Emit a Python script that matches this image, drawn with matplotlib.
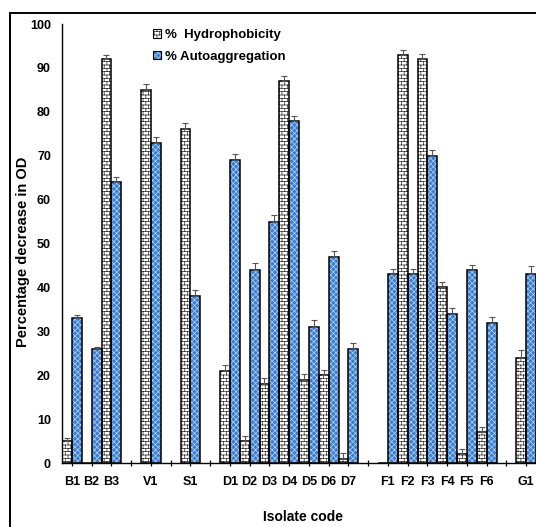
import warnings
warnings.filterwarnings("ignore")
import numpy as np
import matplotlib
matplotlib.use("Agg")
import matplotlib.pyplot as plt
import matplotlib.hatch as mhatch
from matplotlib.path import Path
from matplotlib.patches import Patch, Rectangle
from matplotlib.legend_handler import HandlerTuple

# ---------------- data ----------------
categories = ['B1', 'B2', 'B3', '', 'V1', '', 'S1', '', 'D1', 'D2', 'D3', 'D4', 'D5', 'D6', 'D7',
              '', 'F1', 'F2', 'F3', 'F4', 'F5', 'F6', '', 'G1']
hydrophobicity = [5, 0, 92, None, 85, None, 76, None, 21, 5, 18, 87, 19, 20, 1,
                  None, 0, 93, 92, 40, 2, 7, None, 24]
hydro_err = [0.8, 0, 1.0, None, 1.4, None, 1.4, None, 1.3, 1.2, 1.4, 1.2, 1.2, 1.2, 1.3,
             None, 0, 1.1, 1.2, 1.3, 1.2, 1.1, None, 1.8]
autoaggregation = [33, 26, 64, None, 73, None, 38, None, 69, 44, 55, 78, 31, 47, 26,
                   None, 43, 43, 70, 34, 44, 32, None, 43]
auto_err = [0.8, 0.4, 1.2, None, 1.3, None, 1.4, None, 1.4, 1.5, 1.5, 1.1, 1.5, 1.3, 1.3,
            None, 1.2, 1.2, 1.3, 1.3, 1.2, 1.3, None, 1.9]
series_labels = ['%  Hydrophobicity', '% Autoaggregation']
y_ticks = [0, 10, 20, 30, 40, 50, 60, 70, 80, 90, 100]


# ---------------- brick hatch (replaces the '|' hatch) ----------------
class BrickHatch(mhatch.HatchPatternBase):
    def __init__(self, hatch, density):
        rows = int(hatch.count('|') * density)
        if rows % 2:
            rows += 1
        self.rows = rows
        self.cols = max(1, int(round(rows * 0.6))) if rows else 0
        self.num_vertices = (2 * rows + 2 * self.cols * (rows + 1)) if rows else 0

    def set_vertices_and_codes(self, vertices, codes):
        rows, cols = self.rows, self.cols
        h = 1.0 / rows
        w = 1.0 / cols
        k = 0
        for i in range(rows):
            y = (i + 0.5) * h
            vertices[k] = (0.0, y)
            vertices[k + 1] = (1.0, y)
            codes[k] = Path.MOVETO
            codes[k + 1] = Path.LINETO
            k += 2
        for i in range(rows):
            y0 = (i + 0.5) * h
            off = w * (0.25 if i % 2 == 0 else 0.75)
            for j in range(cols):
                x = j * w + off
                if i < rows - 1:
                    segs = [(y0, y0 + h)]
                else:
                    segs = [(y0, 1.0), (0.0, 0.5 * h)]
                for a, b in segs:
                    vertices[k] = (x, a)
                    vertices[k + 1] = (x, b)
                    codes[k] = Path.MOVETO
                    codes[k + 1] = Path.LINETO
                    k += 2


mhatch._hatch_types = [BrickHatch if t is mhatch.VerticalHatch else t
                       for t in mhatch._hatch_types]

plt.rcParams['font.family'] = ['Liberation Sans', 'DejaVu Sans']
plt.rcParams['font.weight'] = 'bold'
plt.rcParams['hatch.linewidth'] = 0.5

W, H = 536, 527
fig = plt.figure(figsize=(W / 100, H / 100), dpi=100)
fig.patch.set_facecolor('white')

ax_left = 62 / W
ax_bottom = (H - 463) / H
ax_top = (H - 24) / H
ax = fig.add_axes([ax_left, ax_bottom, 1.0 - ax_left, ax_top - ax_bottom])

x = np.arange(len(categories))
hyd = np.array([np.nan if v is None else v for v in hydrophobicity], dtype=float)
aut = np.array([np.nan if v is None else v for v in autoaggregation], dtype=float)
hyd_e = np.array([np.nan if v is None else v for v in hydro_err], dtype=float)
aut_e = np.array([np.nan if v is None else v for v in auto_err], dtype=float)

bw = 0.5
brick_hatch = '|||||'
blue_hatch = 'xxxxxx'
blue = '#3a7ccf'
blue_line = '#b9d4f1'

# hatched fills
ax.bar(x - bw / 2, hyd, bw, color='white', edgecolor='#2e2e2e', hatch=brick_hatch,
       linewidth=0, zorder=2)
ax.bar(x + bw / 2, aut, bw, color=blue, edgecolor=blue_line, hatch=blue_hatch,
       linewidth=0, zorder=2)
# outlines
ax.bar(x - bw / 2, hyd, bw, fill=False, edgecolor='black', linewidth=1.1, zorder=3)
ax.bar(x + bw / 2, aut, bw, fill=False, edgecolor='black', linewidth=1.1, zorder=3)

# error bars (upper only)
m1 = np.nan_to_num(hyd) > 0
m2 = np.nan_to_num(aut) > 0
ax.errorbar((x - bw / 2)[m1], hyd[m1], yerr=[np.zeros(m1.sum()), hyd_e[m1]], fmt='none',
            ecolor='#555555', elinewidth=0.8, capsize=2, capthick=0.8, zorder=4)
ax.errorbar((x + bw / 2)[m2], aut[m2], yerr=[np.zeros(m2.sum()), aut_e[m2]], fmt='none',
            ecolor='#555555', elinewidth=0.8, capsize=2, capthick=0.8, zorder=4)

ax.set_xlim(-0.5, len(categories) - 0.5)
ax.set_ylim(0, 100)
ax.set_xticks(x)
ax.set_xticklabels(categories, fontsize=9, fontweight='bold')
ax.set_yticks(y_ticks)
ax.set_yticklabels([str(t) for t in y_ticks], fontsize=9, fontweight='bold')
ax.tick_params(axis='x', direction='inout', length=5, width=0.9, pad=7)
ax.tick_params(axis='y', length=0, pad=8)
for s in ['top', 'right']:
    ax.spines[s].set_visible(False)
for s in ['left', 'bottom']:
    ax.spines[s].set_linewidth(1.0)
    ax.spines[s].set_color('black')
ax.set_facecolor('none')

ax.set_xlabel('Isolate code', fontsize=10, fontweight='bold')
ax.xaxis.set_label_coords((303 - 62) / (W - 62), -(510 - 463) / (463 - 24))
ax.set_ylabel('Percentage decrease in OD', fontsize=10.5, fontweight='bold')
ax.yaxis.set_label_coords(-(62 - 30) / (W - 62), (463 - 252) / (463 - 24))

# legend
h1 = (Patch(facecolor='white', edgecolor='#2e2e2e', hatch=brick_hatch, linewidth=0),
      Patch(fill=False, edgecolor='black', linewidth=0.8))
h2 = (Patch(facecolor=blue, edgecolor=blue_line, hatch=blue_hatch, linewidth=0),
      Patch(fill=False, edgecolor='black', linewidth=0.8))
leg = fig.legend([h1, h2], series_labels, handler_map={tuple: HandlerTuple(ndivide=1)},
                 loc='upper left', bbox_to_anchor=(153 / W, 1 - 29 / H),
                 frameon=False, handlelength=0.6, handleheight=0.6,
                 handletextpad=0.3, labelspacing=0.75, borderpad=0, borderaxespad=0,
                 prop={'weight': 'bold', 'size': 9.5})

# outer frame (top and left edges visible, rest beyond the canvas)
fig.add_artist(Rectangle((10 / W, -0.1), 1.2, (H - 13) / H + 0.1,
                         transform=fig.transFigure, fill=False, edgecolor='black',
                         linewidth=1.4, zorder=10))

fig.savefig('out.png', dpi=100, facecolor='white')
